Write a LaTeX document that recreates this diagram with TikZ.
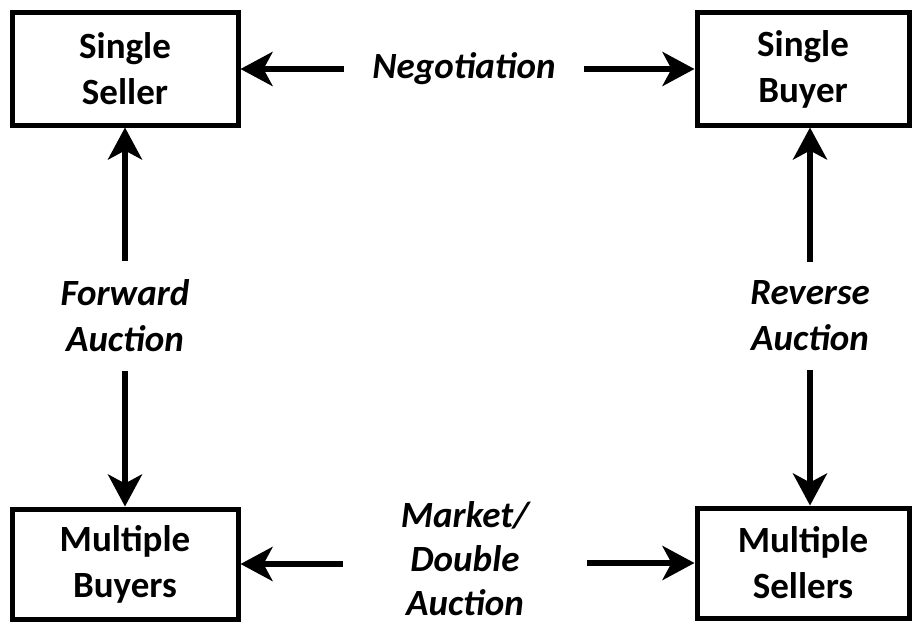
\documentclass[tikz,border=0pt]{standalone}
\usepackage{fontspec}
\setmainfont{Carlito}
\usetikzlibrary{arrows.meta}

\begin{document}
\begin{tikzpicture}[x=1pt,y=-1pt,
    party/.style={draw, line width=5pt, align=center, font=\fontsize{37}{46}\selectfont\bfseries},
    deal/.style={align=center, font=\fontsize{37}{46}\selectfont\bfseries\itshape},
    arr/.style={line width=6pt, -{Stealth[length=32pt, width=34pt, inset=9pt]}}]
    \useasboundingbox (0,0) rectangle (912,626);

    \node[party, minimum width=226pt, minimum height=112pt] (seller) at (125,69) {Single\\Seller};
    \node[party, minimum width=212pt, minimum height=112pt] (buyer) at (803,69) {Single\\Buyer};
    \node[party, minimum width=226pt, minimum height=110pt] (mbuyers) at (125,564) {Multiple\\Buyers};
    \node[party, minimum width=212pt, minimum height=110pt] (msellers) at (803,563) {Multiple\\Sellers};

%    labels in the gaps
    \node[deal, inner xsep=28pt] (neg) at (464,69) {Negotiation};
    \node[deal, inner ysep=19pt] (fwd) at (125,316) {Forward\\Auction};
    \node[deal, inner ysep=19pt] (rev) at (810,316) {Reverse\\Auction};
    \node[deal, font=\fontsize{37}{44}\selectfont\bfseries\itshape, inner xsep=58pt, inner ysep=0pt] (mkt) at (465,559) {Market/\\Double\\Auction};

    \draw[arr] (neg) -- (seller);
    \draw[arr] (neg) -- (buyer);
    \draw[arr] (fwd) -- (seller);
    \draw[arr] (fwd) -- (mbuyers);
    \draw[arr] (rev) -- (rev |- buyer.south);
    \draw[arr] (rev) -- (rev |- msellers.north);
    \draw[arr] (mkt.west |- mbuyers) -- (mbuyers);
    \draw[arr] (mkt.east |- msellers) -- (msellers);

\end{tikzpicture}
\end{document}
